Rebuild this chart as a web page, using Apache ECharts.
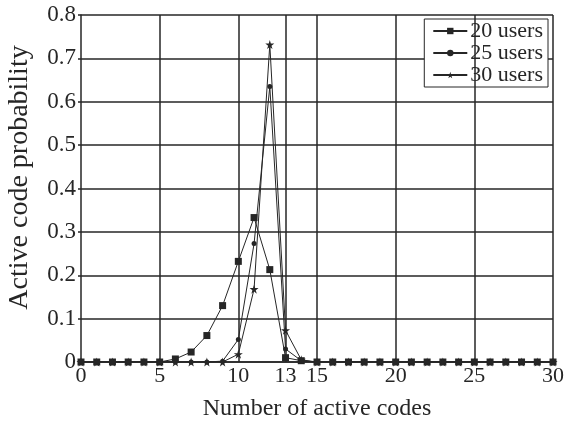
<!DOCTYPE html>
<html><head><meta charset="utf-8">
<script src="https://cdn.jsdelivr.net/npm/echarts@6/dist/echarts.min.js"></script>
<style>html,body{margin:0;padding:0;background:#fff}#c{width:564px;height:428px}</style>
</head><body><div id="c"></div>
<script>
const codes = Array.from({length:31},(_,i)=>i);
const xTicks = [0,5,10,13,15,20,25,30];
const users20 = [0,0,0,0,0,0,0.007,0.023,0.061,0.13,0.232,0.333,0.213,0.01,0.003,0,0,0,0,0,0,0,0,0,0,0,0,0,0,0,0];
const users25 = [0,0,0,0,0,0,0,0,0,0.002,0.052,0.273,0.635,0.03,0.003,0,0,0,0,0,0,0,0,0,0,0,0,0,0,0,0];
const users30 = [0,0,0,0,0,0,0,0,0,0,0.018,0.168,0.732,0.073,0.005,0,0,0,0,0,0,0,0,0,0,0,0,0,0,0,0];
const seriesNames = ['20 users','25 users','30 users'];

const star = 'path://M50,0 L61,35 L98,35 L68,57 L79,91 L50,70 L21,91 L32,57 L2,35 L39,35 Z';
const ink = '#262626';
const font = 'Liberation Serif';
const chart = echarts.init(document.getElementById('c'));
const mk = (name, vals, symbol, size) => ({
  name, type:'line', data: codes.map((x,i)=>[x, vals[i]]),
  symbol, symbolSize:size, showSymbol:true,
  lineStyle:{color:ink,width:1}, itemStyle:{color:ink},
  animation:false, z:3
});
const s1 = mk(seriesNames[0], users20, 'rect', 7);
s1.markLine = {
  silent:true, symbol:['none','none'], label:{show:false},
  lineStyle:{color:ink,width:1.5,type:'solid'},
  data: xTicks.filter(v=>v>0).map(v=>({xAxis:v})),
  animation:false
};
chart.setOption({
  backgroundColor:'#fff',
  animation:false,
  grid:{left:81,right:11,top:15,bottom:66,containLabel:false,outerBoundsMode:'none'},
  legend:{
    orient:'vertical', right:16, top:19,
    data:seriesNames,
    backgroundColor:'#fff', borderColor:ink, borderWidth:1,
    padding:[1,5,1,8], itemGap:0, itemWidth:34, itemHeight:8,
    textStyle:{fontFamily:font,fontSize:22,color:ink,padding:[0,0,0,-2],lineHeight:18}
  },
  xAxis:{
    type:'value', min:0, max:30,
    name:'Number of active codes', nameLocation:'middle', nameGap:35,
    nameTextStyle:{fontFamily:font,fontSize:24,color:ink},
    axisLine:{onZero:false,lineStyle:{color:ink,width:1.5}},
    axisTick:{show:false},
    axisLabel:{customValues:xTicks,fontFamily:font,fontSize:22,color:ink,margin:3},
    splitLine:{show:false}
  },
  yAxis:{
    type:'value', min:0, max:0.8, interval:0.1,
    name:'Active code probability', nameLocation:'middle', nameGap:47,
    nameTextStyle:{fontFamily:font,fontSize:28,color:ink,padding:[0,0,0,22]},
    axisLine:{show:true,lineStyle:{color:ink,width:1.5}},
    axisTick:{show:true,length:3,lineStyle:{color:ink,width:1.5}},
    axisLabel:{fontFamily:font,fontSize:23,color:ink,margin:5},
    splitLine:{show:true,lineStyle:{color:ink,width:1.5}}
  },
  series:[s1, mk(seriesNames[1], users25, 'circle', 5), mk(seriesNames[2], users30, star, 9)]
});
</script></body></html>
